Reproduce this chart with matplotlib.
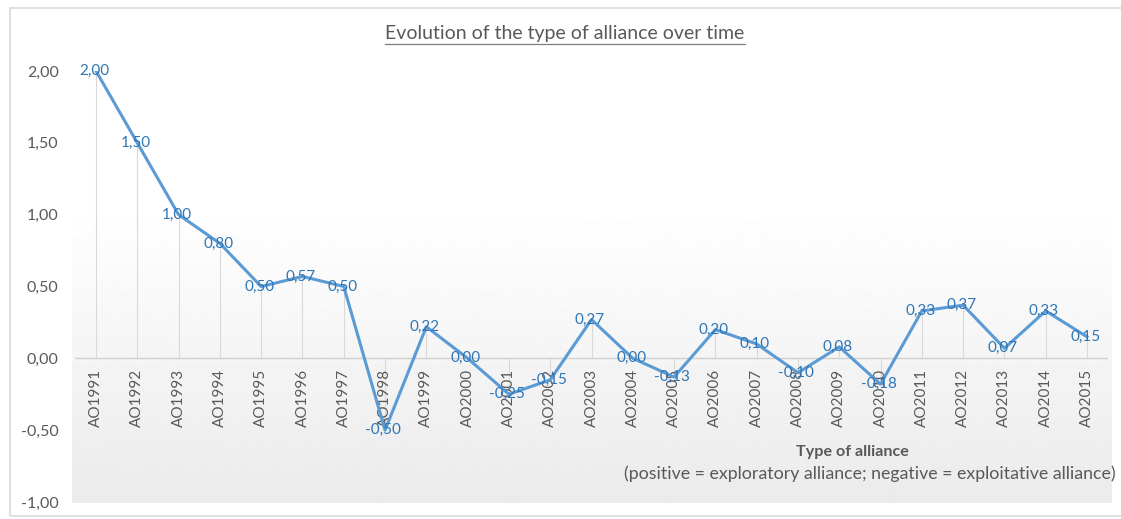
import numpy as np
import matplotlib
matplotlib.use("Agg")
import matplotlib.pyplot as plt
from matplotlib.patches import Rectangle

plt.rcParams["font.family"] = ["Lato", "DejaVu Sans"]

years = list(range(1991, 2016))
labels = ["AO%d" % y for y in years]
values = [2.00, 1.50, 1.00, 0.80, 0.50, 0.57, 0.50, -0.50, 0.22, 0.00,
          -0.25, -0.15, 0.27, 0.00, -0.13, 0.20, 0.10, -0.10, 0.08, -0.18,
          0.33, 0.37, 0.07, 0.33, 0.15]

W, H = 1121, 519
fig = plt.figure(figsize=(W / 100, H / 100), dpi=100)
fig.patch.set_facecolor("white")
renderer = fig.canvas.get_renderer()

def fx(px):
    return px / W

def fy(py):
    return 1 - py / H

def fit(t, target_px):
    # scale font so that the text is about as wide as in the reference
    w = t.get_window_extent(renderer).width
    t.set_fontsize(t.get_fontsize() * target_px / w)

# chart frame
fig.patches.append(Rectangle((fx(10), fy(516)), fx(1125) - fx(10), fy(8) - fy(516),
                             transform=fig.transFigure, fill=False,
                             edgecolor="#d9d9d9", linewidth=1.2))

# gradient background (white at top -> light gray at bottom)
bg = fig.add_axes([fx(72), fy(503), fx(1112) - fx(72), fy(205) - fy(503)], zorder=0)
grad = np.linspace(1.0, 0.92, 256).reshape(-1, 1)
bg.imshow(grad, aspect="auto", cmap="gray", vmin=0, vmax=1, extent=[0, 1, 0, 1], origin="upper")
bg.axis("off")

x0, x1 = 96, 1087
step = (x1 - x0) / 24
left = x0 - step / 2
right = x1 + step / 2
ax = fig.add_axes([fx(left), fy(502), fx(right) - fx(left), fy(71) - fy(502)], zorder=1)
ax.patch.set_alpha(0)

x = np.arange(len(values))
ax.set_xlim(-0.5, len(values) - 0.5)
ax.set_ylim(-1.0, 2.0)

# drop lines
for xi, v in zip(x, values):
    ax.plot([xi, xi], [0, v], color="#d9d9d9", linewidth=0.8, zorder=1)

ax.axhline(0, color="#d0d0d0", linewidth=1.0, zorder=1)
ax.plot(x, values, color="#5b9bd5", linewidth=2.2, zorder=3, solid_joinstyle="round")

for xi, v in zip(x, values):
    t = ax.text(xi - 0.04, v, ("%.2f" % v).replace(".", ","), color="#2e75b6",
                fontsize=10, ha="center", va="center", zorder=4)
    if xi == 0:
        fit(t, 30)
        dl_size = t.get_fontsize()
for t in ax.texts:
    t.set_fontsize(dl_size)

for s in ax.spines.values():
    s.set_visible(False)

yt = np.arange(-1.0, 2.01, 0.5)
ax.set_yticks(yt)
ax.set_yticklabels([("%.2f" % v).replace(".", ",") for v in yt])
ax.tick_params(axis="y", length=0, pad=12, labelsize=11.5, labelcolor="#595959")
ax.set_xticks([])

xt = []
for xi, lab in zip(x, labels):
    xt.append(ax.text(xi, -0.07, lab, rotation=90, ha="center", va="top", fontsize=10,
                      color="#595959", zorder=2))
h = xt[0].get_window_extent(renderer).height
for t in xt:
    t.set_fontsize(10 * 58 / h)

title = fig.text(fx(565), fy(33), "Evolution of the type of alliance over time",
                 ha="center", va="center", fontsize=13, color="#595959")
fit(title, 358)
bb = title.get_window_extent(renderer)
fig.lines.append(plt.Line2D([bb.x0 / W, bb.x1 / W], [fy(44), fy(44)], transform=fig.transFigure,
                            color="#7f7f7f", linewidth=0.9))

t1 = fig.text(fx(852), fy(452), "Type of alliance", ha="center", va="center",
              fontsize=10, fontweight="bold", color="#595959")
fit(t1, 113)
t2 = fig.text(fx(870), fy(474), "(positive = exploratory alliance; negative = exploitative alliance)",
              ha="center", va="center", fontsize=10, color="#595959")
fit(t2, 492)

fig.savefig("out.png", dpi=100)
